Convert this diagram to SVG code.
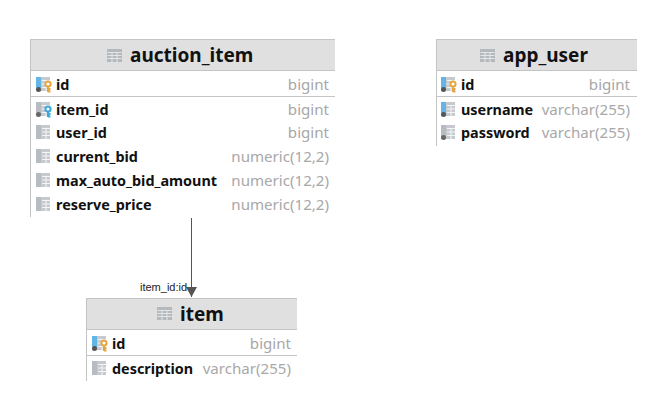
<svg xmlns="http://www.w3.org/2000/svg" width="667" height="411" viewBox="0 0 667 411">
<style>
text{font-family:"Noto Sans","Open Sans","DejaVu Sans",sans-serif}
.head{fill:#e0e0e0}
.bd{stroke:#c4c4c4;stroke-width:1;fill:none}
.title{font-size:19px;font-weight:700;fill:#111}
.name{font-size:14.4px;font-weight:700;fill:#111}
.type{font-size:15.1px;fill:#a8a8a8;text-anchor:end}
.lab{font-family:"Liberation Sans",Arial,sans-serif;font-size:11px;fill:#222}
.conn{stroke:#555;stroke-width:1;fill:none}
</style>
<defs>
<marker id="arrow" markerUnits="userSpaceOnUse" markerWidth="12" markerHeight="12" refX="10" refY="6" orient="auto">
<path d="M0 0.500L10 6L0 11.500z" fill="#555"/>
</marker>
<g id="tbl">
<rect x="0" y="0" width="15" height="13" fill="#b4b9be"/>
<path d="M0.500 3.500H14.500M0.500 6.500H14.500M0.500 9.500H14.500M5 3.500V13M10 3.500V13" stroke="#e4e6e8" stroke-width="1"/>
</g>
<g id="col">
<rect x="0" y="0" width="14" height="14" fill="#c6cacf"/>
<path d="M6 3.500H14M6 7H14M6 10.500H14M10 3V14" stroke="#f4f5f6" stroke-width="1"/>
<rect x="0" y="0" width="5" height="11" fill="#b7bcc2"/>
<circle cx="2.500" cy="12.500" r="2.500" fill="#666"/>
</g>
<g id="colplain">
<rect x="0" y="0" width="14" height="14" fill="#c6cacf"/>
<path d="M6 3.500H14M6 7H14M6 10.500H14M10 3V14" stroke="#f4f5f6" stroke-width="1"/>
<rect x="0" y="0" width="5" height="14" fill="#b7bcc2"/>
</g>
<g id="colb">
<rect x="0" y="0" width="14" height="14" fill="#c6cacf"/>
<path d="M6 3.500H14M6 7H14M6 10.500H14M10 3V14" stroke="#f4f5f6" stroke-width="1"/>
<rect x="0" y="0" width="5" height="11" fill="#62b5e5"/>
<circle cx="2.500" cy="12.500" r="2.500" fill="#555"/>
</g>
<g id="pk">
<use href="#colb"/>
<circle cx="12" cy="7" r="2.600" fill="#fff" stroke="#e5a63f" stroke-width="2"/>
<path d="M12 9.500V15M12 12H14.500M12 14.500H14.500" stroke="#e5a63f" stroke-width="2" fill="none"/>
</g>
<g id="fk">
<use href="#col"/>
<circle cx="12" cy="7" r="2.600" fill="#fff" stroke="#39a9dc" stroke-width="2"/>
<path d="M12 9.500V15M12 12H14.500M12 14.500H14.500" stroke="#39a9dc" stroke-width="2" fill="none"/>
</g>
</defs>

<g id="connectors">
<path class="conn" d="M191.500 218V297" marker-end="url(#arrow)"/>
<text class="lab" x="140" y="291">item_id:id</text>
</g>

<g id="auction_item">
<rect class="head" x="30" y="39" width="305" height="31"/>
<path class="bd" d="M335 39.500H30.500V217M31 70.500H335M31 96.500H335"/>
<use href="#tbl" x="107" y="49"/>
<text class="title" x="130" y="62">auction_item</text>
<use href="#pk" x="36" y="77"/><text class="name" x="56" y="90">id</text><text class="type" x="329" y="90">bigint</text>
<use href="#fk" x="36" y="102"/><text class="name" x="56" y="115">item_id</text><text class="type" x="329" y="115">bigint</text>
<use href="#colplain" x="36" y="125"/><text class="name" x="56" y="138">user_id</text><text class="type" x="329" y="138">bigint</text>
<use href="#colplain" x="36" y="149"/><text class="name" x="56" y="162">current_bid</text><text class="type" x="329" y="162">numeric(12,2)</text>
<use href="#colplain" x="36" y="173"/><text class="name" x="56" y="186">max_auto_bid_amount</text><text class="type" x="329" y="186">numeric(12,2)</text>
<use href="#colplain" x="36" y="197"/><text class="name" x="56" y="210">reserve_price</text><text class="type" x="329" y="210">numeric(12,2)</text>
</g>

<g id="app_user">
<rect class="head" x="436" y="39" width="201" height="31"/>
<path class="bd" d="M637 39.500H436.500V146M437 70.500H637M437 96.500H637"/>
<use href="#tbl" x="480" y="49"/>
<text class="title" x="503" y="62">app_user</text>
<use href="#pk" x="441" y="77"/><text class="name" x="461" y="90">id</text><text class="type" x="630" y="90">bigint</text>
<use href="#colb" x="441" y="102"/><text class="name" x="461" y="115">username</text><text class="type" x="630" y="115">varchar(255)</text>
<use href="#col" x="441" y="125"/><text class="name" x="461" y="138">password</text><text class="type" x="630" y="138">varchar(255)</text>
</g>

<g id="item">
<rect class="head" x="86" y="298" width="211" height="31"/>
<path class="bd" d="M297 298.500H86.500V381M87 329.500H297M87 355.500H297"/>
<use href="#tbl" x="157" y="307"/>
<text class="title" x="180" y="321">item</text>
<use href="#pk" x="92" y="336"/><text class="name" x="112" y="349">id</text><text class="type" x="291" y="349">bigint</text>
<use href="#colplain" x="92" y="361"/><text class="name" x="112" y="374">description</text><text class="type" x="291" y="374">varchar(255)</text>
</g>
</svg>
